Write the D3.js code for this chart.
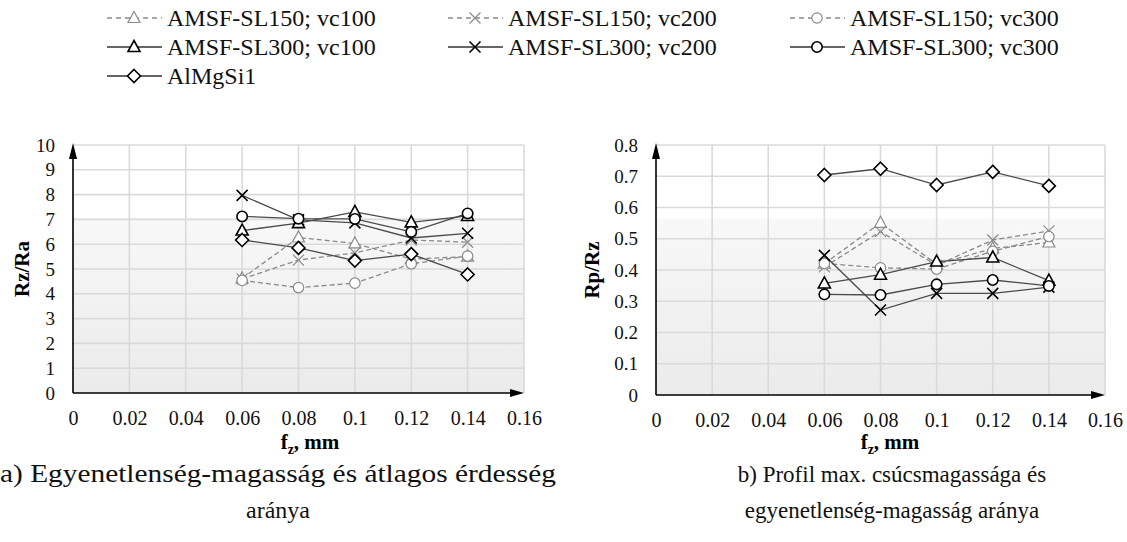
<!DOCTYPE html>
<html>
<head>
<meta charset="utf-8">
<script src="https://cdn.jsdelivr.net/npm/d3@7"></script>
<style>
  html, body { margin: 0; padding: 0; background: #fff; }
  svg, svg text { font-family: "Liberation Serif", "Times New Roman", serif; }
  svg { display: block; }
</style>
</head>
<body>
<div id="root"></div>
<script>
// feed rates (x) and tick values
const fz = [0.06, 0.08, 0.1, 0.12, 0.14];
const xTicks = [0, 0.02, 0.04, 0.06, 0.08, 0.1, 0.12, 0.14, 0.16];
const rzTicks = [0, 1, 2, 3, 4, 5, 6, 7, 8, 9, 10];
const rpTicks = [0, 0.1, 0.2, 0.3, 0.4, 0.5, 0.6, 0.7, 0.8];

// series labels, in legend order
const seriesNames = [
  'AMSF-SL150; vc100', 'AMSF-SL150; vc200', 'AMSF-SL150; vc300',
  'AMSF-SL300; vc100', 'AMSF-SL300; vc200', 'AMSF-SL300; vc300',
  'AlMgSi1'
];
const seriesMarkers = ['triangle', 'cross', 'circle', 'triangle', 'cross', 'circle', 'diamond'];
const seriesDashed = [true, true, true, false, false, false, false];

// a) Rz/Ra
const rzRa_SL150_vc100 = [4.62, 6.27, 6.03, 5.40, 5.50];
const rzRa_SL150_vc200 = [4.60, 5.36, 5.65, 6.17, 6.08];
const rzRa_SL150_vc300 = [4.54, 4.25, 4.43, 5.21, 5.52];
const rzRa_SL300_vc100 = [6.55, 6.85, 7.30, 6.88, 7.14];
const rzRa_SL300_vc200 = [7.97, 6.98, 6.86, 6.25, 6.44];
const rzRa_SL300_vc300 = [7.12, 7.03, 7.02, 6.50, 7.24];
const rzRa_AlMgSi1     = [6.17, 5.85, 5.34, 5.60, 4.78];

// b) Rp/Rz
const rpRz_SL150_vc100 = [0.42, 0.551, 0.418, 0.469, 0.488];
const rpRz_SL150_vc200 = [0.41, 0.523, 0.415, 0.496, 0.525];
const rpRz_SL150_vc300 = [0.421, 0.407, 0.403, 0.46, 0.507];
const rpRz_SL300_vc100 = [0.357, 0.385, 0.427, 0.44, 0.366];
const rpRz_SL300_vc200 = [0.447, 0.272, 0.325, 0.325, 0.345];
const rpRz_SL300_vc300 = [0.322, 0.32, 0.354, 0.368, 0.349];
const rpRz_AlMgSi1     = [0.704, 0.724, 0.672, 0.714, 0.669];

const W = 1127, H = 542;
const FONT = '"Liberation Serif", "Times New Roman", serif';
const svg = d3.select('#root').append('svg').attr('width', W).attr('height', H);

const defs = svg.append('defs');
const grad = defs.append('linearGradient').attr('id', 'bg').attr('x1', 0).attr('y1', 0).attr('x2', 0).attr('y2', 1);
grad.append('stop').attr('offset', '0%').attr('stop-color', '#ffffff');
grad.append('stop').attr('offset', '29%').attr('stop-color', '#ffffff');
grad.append('stop').attr('offset', '30%').attr('stop-color', '#f8f8f8');
grad.append('stop').attr('offset', '100%').attr('stop-color', '#ebebeb');

const SOLID_LINE = '#4a4a4a', DASH_LINE = '#8a8a8a';

// marker paths centred at 0,0
function markerPath(type) {
  if (type === 'triangle') return 'M0,-6.5L6,4.5L-6,4.5Z';
  if (type === 'circle') return d3.symbol(d3.symbolCircle, 85)();
  if (type === 'diamond') return 'M0,-6.5L6.5,0L0,6.5L-6.5,0Z';
  return 'M-5.5,-5.5L5.5,5.5M-5.5,5.5L5.5,-5.5';
}

function drawMarker(sel, type, color, sw) {
  sel.append('path')
    .attr('d', markerPath(type))
    .attr('fill', type === 'cross' ? 'none' : '#fff')
    .attr('stroke', color)
    .attr('stroke-width', sw);
}

function drawChart(cfg) {
  const x = d3.scaleLinear().domain([0, 0.16]).range([cfg.x0, cfg.x1]);
  const y = d3.scaleLinear().domain([0, cfg.yMax]).range([cfg.yBottom, cfg.yTop]);
  const g = svg.append('g');

  g.append('rect')
    .attr('x', x(0)).attr('y', y(cfg.yMax))
    .attr('width', x(0.16) - x(0)).attr('height', y(0) - y(cfg.yMax))
    .attr('fill', 'url(#bg)');

  // gridlines
  g.append('g').selectAll('line').data(cfg.yTicks.slice(1)).join('line')
    .attr('x1', x(0)).attr('x2', x(0.16))
    .attr('y1', d => y(d)).attr('y2', d => y(d))
    .attr('stroke', '#dadada').attr('stroke-width', 1.6);
  g.append('g').selectAll('line').data(xTicks.slice(1)).join('line')
    .attr('x1', d => x(d)).attr('x2', d => x(d))
    .attr('y1', y(0)).attr('y2', y(cfg.yMax))
    .attr('stroke', '#dadada').attr('stroke-width', 1.6);

  // axes with arrowheads
  const xAxis = d3.axisBottom(x).tickValues(xTicks).tickSize(0).tickPadding(18)
    .tickFormat(d => String(+d.toFixed(2)));
  const gx = g.append('g').attr('transform', `translate(0,${y(0)})`).call(xAxis)
    .attr('font-family', FONT).attr('font-size', 20);
  gx.select('.domain').remove();
  gx.selectAll('text').style('font-family', FONT).style('font-size', '20px').attr('fill', '#111');

  const yAxis = d3.axisLeft(y).tickValues(cfg.yTicks).tickSize(0).tickPadding(cfg.yPad)
    .tickFormat(cfg.yFmt);
  const gy = g.append('g').attr('transform', `translate(${x(0)},0)`).call(yAxis)
    .attr('font-family', FONT).attr('font-size', 19);
  gy.select('.domain').remove();
  gy.selectAll('text').style('font-family', FONT).style('font-size', '19px').attr('fill', '#111');

  g.append('line').attr('x1', x(0)).attr('x2', x(0.16) - 10).attr('y1', y(0)).attr('y2', y(0))
    .attr('stroke', '#000').attr('stroke-width', 1.6);
  g.append('path')
    .attr('d', `M${x(0.16)},${y(0)}L${x(0.16) - 14},${y(0) - 4}L${x(0.16) - 14},${y(0) + 4}Z`)
    .attr('fill', '#000');
  g.append('line').attr('x1', x(0)).attr('x2', x(0)).attr('y1', y(0)).attr('y2', y(cfg.yMax) + 10)
    .attr('stroke', '#000').attr('stroke-width', 1.6);
  g.append('path')
    .attr('d', `M${x(0)},${y(cfg.yMax) - 2}L${x(0) - 4},${y(cfg.yMax) + 14}L${x(0) + 4},${y(cfg.yMax) + 14}Z`)
    .attr('fill', '#000');

  // series: dashed first, then solid on top
  const line = d3.line().x(d => x(d[0])).y(d => y(d[1]));
  cfg.series.forEach((vals, i) => {
    const pts = fz.map((f, k) => [f, vals[k]]);
    const dashed = seriesDashed[i];
    g.append('path').datum(pts)
      .attr('d', line)
      .attr('fill', 'none')
      .attr('stroke', dashed ? DASH_LINE : SOLID_LINE)
      .attr('stroke-width', 1.3)
      .attr('stroke-dasharray', dashed ? '5,3' : null);
    const mk = g.append('g').selectAll('g').data(pts).join('g')
      .attr('transform', d => `translate(${x(d[0])},${y(d[1])})`);
    mk.each(function () {
      drawMarker(d3.select(this), seriesMarkers[i], dashed ? DASH_LINE : '#000', dashed ? 1.2 : 1.6);
    });
  });

  // axis titles
  g.append('text')
    .attr('transform', `translate(${cfg.titleX},${(y(0) + y(cfg.yMax)) / 2}) rotate(-90)`)
    .attr('text-anchor', 'middle').attr('dominant-baseline', 'central')
    .style('font-family', FONT).attr('font-size', 21).attr('font-weight', 'bold')
    .text(cfg.yTitle);

  const xt = g.append('text')
    .attr('x', cfg.xTitleX).attr('y', 449)
    .attr('text-anchor', 'middle')
    .style('font-family', FONT).attr('font-size', 21).attr('font-weight', 'bold');
  xt.append('tspan').text('f');
  xt.append('tspan').attr('font-size', 14).attr('dy', 5).text('z');
  xt.append('tspan').attr('dy', -5).text(', mm');

  // caption (two lines under each chart)
  cfg.caption.forEach((c, k) => {
    const t = svg.append('text')
      .attr('x', cfg.capX).attr('y', 482 + k * 36)
      .attr('text-anchor', 'middle')
      .style('font-family', FONT).attr('font-size', cfg.capSize[k]).attr('fill', '#111')
      .text(c);
    if (cfg.capWidth[k]) t.attr('textLength', cfg.capWidth[k]).attr('lengthAdjust', 'spacingAndGlyphs');
  });
}

drawChart({
  x0: 73, x1: 524, yTop: 145, yBottom: 393, yMax: 10,
  yTicks: rzTicks, yFmt: d => String(d), yPad: 18,
  titleX: 22, yTitle: 'Rz/Ra', xTitleX: 310, capX: 278,
  capSize: [25, 24], capWidth: [556, null],
  series: [rzRa_SL150_vc100, rzRa_SL150_vc200, rzRa_SL150_vc300,
           rzRa_SL300_vc100, rzRa_SL300_vc200, rzRa_SL300_vc300, rzRa_AlMgSi1],
  caption: ['a) Egyenetlenség-magasság és átlagos érdesség', 'aránya']
});

drawChart({
  x0: 656, x1: 1105, yTop: 145, yBottom: 395, yMax: 0.8,
  yTicks: rpTicks, yFmt: d => String(+d.toFixed(1)), yPad: 18,
  titleX: 592, yTitle: 'Rp/Rz', xTitleX: 890, capX: 892,
  capSize: [23, 23], capWidth: [null, null],
  series: [rpRz_SL150_vc100, rpRz_SL150_vc200, rpRz_SL150_vc300,
           rpRz_SL300_vc100, rpRz_SL300_vc200, rpRz_SL300_vc300, rpRz_AlMgSi1],
  caption: ['b) Profil max. csúcsmagassága és', 'egyenetlenség-magasság aránya']
});

// legend: 3 columns x 3 rows
const legCols = [107, 448, 790];
const legRows = [18, 47, 76];
const legend = svg.append('g');
seriesNames.forEach((name, i) => {
  const col = i % 3, row = Math.floor(i / 3);
  const item = legend.append('g').attr('transform', `translate(${legCols[col]},${legRows[row]})`);
  const dashed = seriesDashed[i];
  item.append('line')
    .attr('x1', 0).attr('x2', 55).attr('y1', 0).attr('y2', 0)
    .attr('stroke', dashed ? DASH_LINE : '#333')
    .attr('stroke-width', 1.4)
    .attr('stroke-dasharray', dashed ? '5,4' : null);
  const m = item.append('g').attr('transform', 'translate(27,0)');
  drawMarker(m, seriesMarkers[i], dashed ? DASH_LINE : '#000', dashed ? 1.2 : 1.6);
  item.append('text')
    .attr('x', 60).attr('y', 0)
    .attr('dominant-baseline', 'central')
    .style('font-family', FONT).attr('font-size', 24).attr('fill', '#111')
    .text(name);
});
</script>
</body>
</html>
